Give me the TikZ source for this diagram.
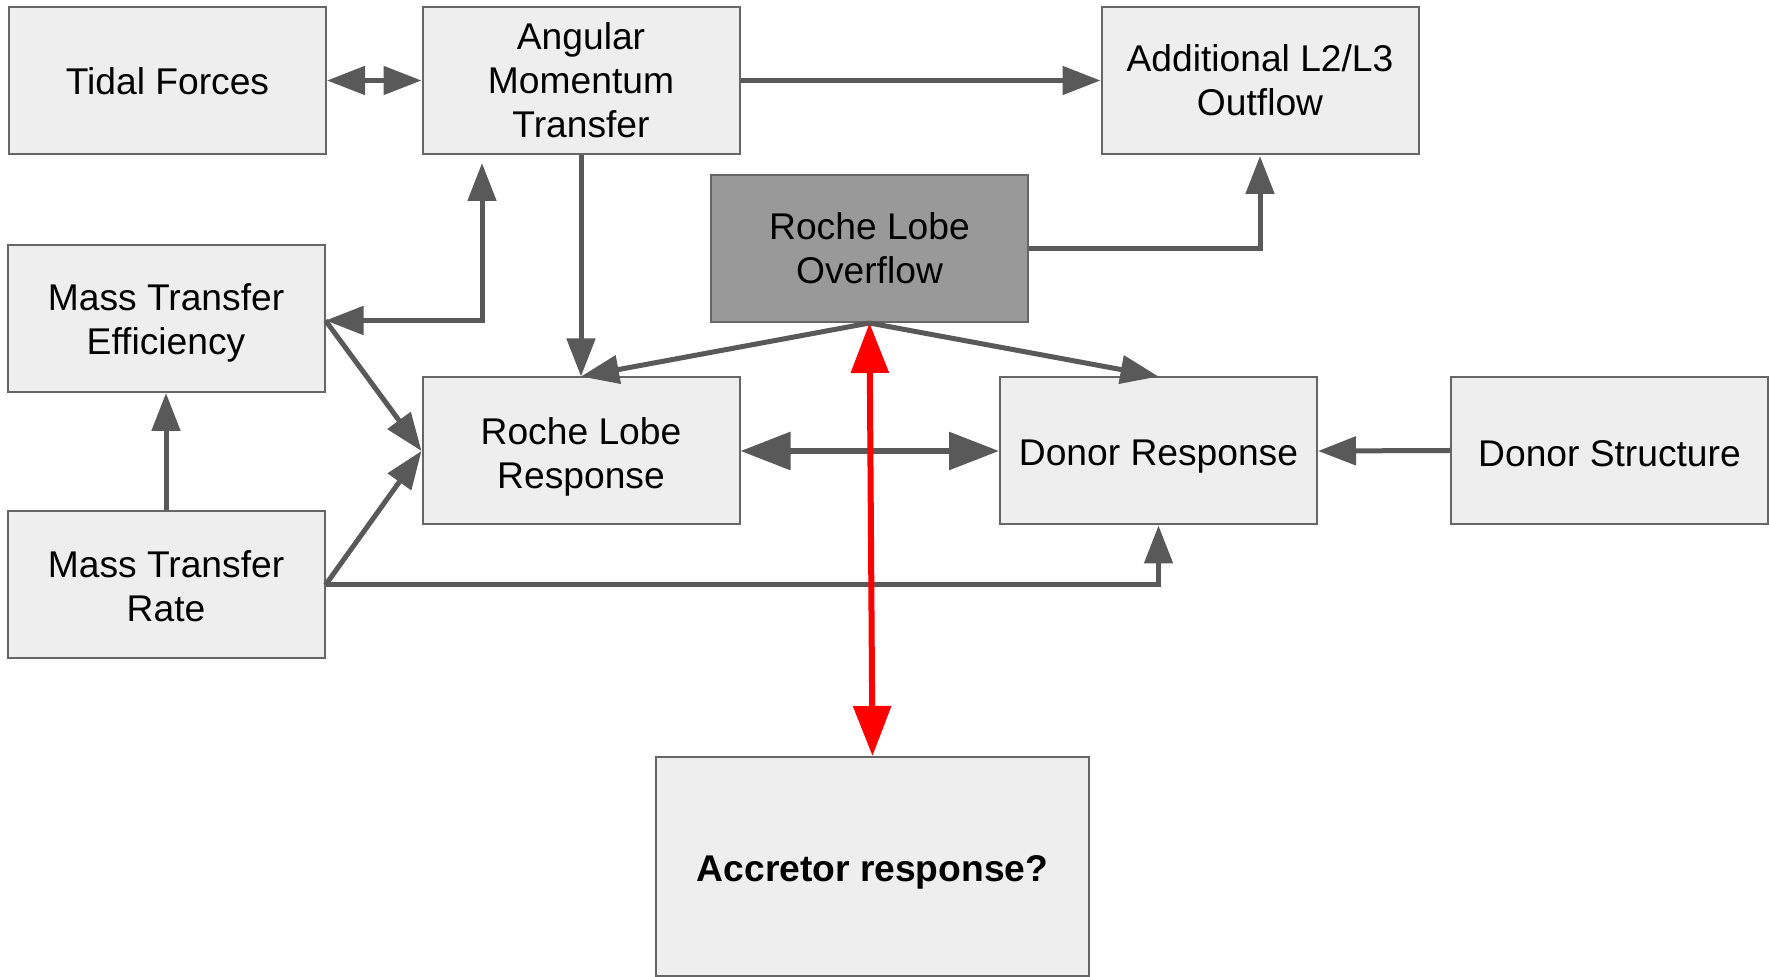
\documentclass[tikz,border=0pt]{standalone}
\usepackage{fontspec}
\setmainfont{Liberation Sans}
\usetikzlibrary{arrows.meta}
\definecolor{boxfill}{HTML}{EEEEEE}
\definecolor{boxline}{HTML}{666666}
\definecolor{linkgray}{HTML}{595959}
\definecolor{hotfill}{HTML}{999999}
\definecolor{accred}{HTML}{FF0000}
\tikzset{
  linktip/.tip={Triangle[length=19pt,width=14pt]},
  widetip/.tip={Triangle[length=25pt,width=18.5pt]},
}
\begin{document}
\begin{tikzpicture}[x=0.5pt,y=-0.5pt,
  box/.style={draw=boxline, line width=1pt, fill=boxfill,
    minimum width=158.5pt, minimum height=73.5pt, inner sep=0pt},
  hot/.style={box, fill=hotfill},
  boxtext/.style={align=center, inner sep=0pt,
    font=\fontsize{18.6}{22}\selectfont},
  link/.style={draw=linkgray, line width=2.5pt, -linktip},
  twoway/.style={draw=linkgray, line width=2.5pt, linktip-linktip},
  wideway/.style={draw=linkgray, line width=3pt, widetip-widetip},
  redway/.style={draw=accred, line width=3pt, widetip-widetip},
]
\useasboundingbox (0,0) rectangle (1769,977);

% boxes, each with its caption set as a centred label
\node[box, label={[boxtext, yshift=-0.5pt]center:{Tidal Forces}}]
  (tf)  at (167.5,80.5) {};
\node[box, label={[boxtext]center:{Angular\\Momentum\\Transfer}}]
  (amt) at (581,80.5) {};
\node[box, label={[boxtext]center:{Additional L2/L3\\Outflow}}]
  (l23) at (1260,80.5) {};
\node[hot, label={[boxtext]center:{Roche Lobe\\Overflow}}]
  (rlo) at (869.5,248.5) {};
\node[box, label={[boxtext, yshift=-2pt]center:{Mass Transfer\\Efficiency}}]
  (mte) at (166,318.5) {};
\node[box, label={[boxtext, yshift=-2.75pt]center:{Roche Lobe\\Response}}]
  (rlr) at (581,451) {};
\node[box, label={[boxtext, yshift=-2.75pt]center:{Donor Response}}]
  (dr)  at (1158.5,451) {};
\node[box, label={[boxtext, yshift=-1.75pt]center:{Donor Structure}}]
  (ds)  at (1609.5,450.5) {};
\node[box, label={[boxtext, yshift=-0.75pt]center:{Mass Transfer\\Rate}}]
  (mtr) at (166,585) {};
\node[box, minimum width=216.5pt, minimum height=109.5pt,
  label={[boxtext, yshift=-2.75pt]center:{\bfseries Accretor response?}}]
  (acc) at (872.5,866.5) {};

% connectors
\draw[twoway] (tf.east) -- (amt.west);
\draw[link] (amt.east) -- (l23.west);
\draw[link] (amt.south) -- (rlr.north);
\draw[link] (rlo.east) -| ([yshift=-0.5pt]l23.south);
\draw[twoway] ([yshift=-1pt]mte.east) -| ([xshift=-49.5pt,yshift=-4pt]amt.south);
\draw[link] ([yshift=-1pt]mte.east) -- (rlr.west);
\draw[link] (mtr.east) -- (rlr.west);
\draw[link] (mtr.north) -- (mte.south);
\draw[link] (mtr.east) -| (dr.south);
\draw[link] (rlo.south) -- (rlr.north);
\draw[link] (rlo.south) -- (dr.north);
\draw[wideway] (rlr.east) -- (dr.west);
\draw[link] (ds.west) -- (dr.east);
\draw[redway] (rlo.south) -- (acc.north);
\end{tikzpicture}
\end{document}
